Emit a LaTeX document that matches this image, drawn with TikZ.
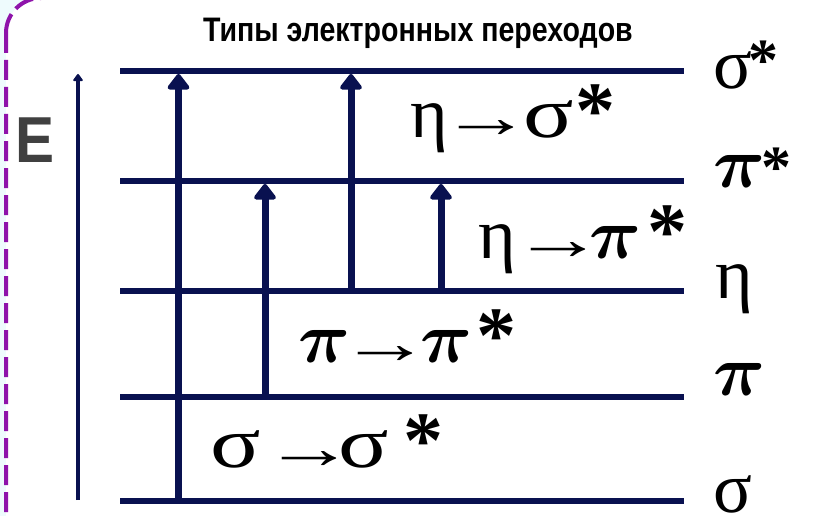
\documentclass[tikz,border=0pt]{standalone}
\usepackage{fontspec}
\usepackage{amsmath}
\usepackage{graphicx}
\setmainfont{Liberation Serif}
\newfontfamily\titlefont{Liberation Sans}
\usetikzlibrary{arrows.meta, positioning}

\definecolor{levelnavy}{RGB}{9,17,80}
\definecolor{framepurple}{RGB}{142,20,170}
\definecolor{bgcyan}{RGB}{238,251,253}

\newcommand{\trarrow}{\raisebox{-1pt}{\fontsize{60}{60}\selectfont\scalebox{1.53}[1]{→}}}
\newcommand{\trsig}{\scalebox{1.3}[1]{σ}}
\newcommand{\trstar}{{\fontsize{80}{80}\selectfont\textbf{*}}}
\newcommand{\lvlstar}{{\fontsize{60}{60}\selectfont\textbf{*}}}
\newcommand{\bpi}{\scalebox{2.9}{\fontsize{24.88}{26}\selectfont$\boldsymbol{\pi}$}}

\begin{document}
\begin{tikzpicture}[x=1pt, y=-1pt,
    level/.style={line width=5.5pt, levelnavy},
    jump/.style={line width=7pt, levelnavy, -{Triangle[width=25pt, length=17pt, round]}},
    axis/.style={line width=3.5pt, levelnavy, -{Triangle[width=11pt, length=8pt, round]}},
    lvltext/.style={anchor=base west, inner sep=0pt, font=\fontsize{72}{80}\selectfont},
    trans/.style={anchor=base west, inner sep=0pt, font=\fontsize{72}{80}\selectfont}]

    % =================================================================
    % 1. FRAME AND BACKGROUND
    % =================================================================
    \useasboundingbox (0,0) rectangle (824,516);
    \clip (0,0) rectangle (824,516);
    \fill[bgcyan] (0,0) rectangle (824,516);
    \filldraw[fill=white, draw=framepurple, line width=4pt,
        dash pattern=on 20pt off 7pt, rounded corners=35pt]
        (6,-2) rectangle (900,548);

    % =================================================================
    % 2. ENERGY LEVELS
    % =================================================================
    \coordinate (SigSL) at (120,71);
    \coordinate (SigSR) at (684,71);
    \coordinate (PiSL) at (120,181);
    \coordinate (PiSR) at (684,181);
    \coordinate (EtaL) at (120,291);
    \coordinate (EtaR) at (684,291);
    \coordinate (PiL) at (120,397);
    \coordinate (PiR) at (684,397);
    \coordinate (SigL) at (120,501);
    \coordinate (SigR) at (684,501);

    \draw[level] (SigSL) -- (SigSR);
    \draw[level] (PiSL) -- (PiSR);
    \draw[level] (EtaL) -- (EtaR);
    \draw[level] (PiL) -- (PiR);
    \draw[level] (SigL) -- (SigR);

    % level names on the right
    \node[lvltext] (nSigS) at (713,89) {σ\kern-4pt\raisebox{9pt}{\lvlstar}};
    \node[lvltext] (nPiS) at (713,187) {\bpi\kern-4pt\lvlstar};
    \node[lvltext] (nEta) at (715,298) {η};
    \node[lvltext] (nPi) at (713,395) {\bpi};
    \node[lvltext] (nSig) at (713,512) {σ};

    % =================================================================
    % 3. TRANSITIONS (ARROWS)
    % =================================================================
    \coordinate (J1a) at (178.5,501);
    \coordinate (J1b) at (178.5,74);
    \coordinate (J2a) at (265,397);
    \coordinate (J2b) at (265,184);
    \coordinate (J3a) at (351,291);
    \coordinate (J3b) at (351,74);
    \coordinate (J4a) at (441,291);
    \coordinate (J4b) at (441,184);

    \draw[jump] (J1a) -- (J1b);
    \draw[jump] (J2a) -- (J2b);
    \draw[jump] (J3a) -- (J3b);
    \draw[jump] (J4a) -- (J4b);

    % energy axis
    \coordinate (AxisLow) at (78,500);
    \coordinate (AxisTop) at (78,74);
    \draw[axis] (AxisLow) -- (AxisTop);
    \node[font=\titlefont\bfseries\fontsize{65}{65}\selectfont, text=black!75,
        inner sep=0pt] (nE) at (35.5,140) {\scalebox{0.9}[1]{E}};

    % =================================================================
    % 4. LABELS
    % =================================================================
    \node[font=\titlefont\bfseries\fontsize{34}{34}\selectfont, inner sep=0pt,
        anchor=base] (nTitle) at (418,42)
        {\scalebox{0.84}[1]{Типы электронных переходов}};

    \node[trans] (tEtaSig) at (410,137)
        {η\hspace{-7pt}\trarrow\hspace{-9pt}\trsig\hspace{1pt}\trstar};
    \node[trans] (tEtaPi) at (478,258)
        {η\hspace{-3.5pt}\trarrow\hspace{-15pt}\bpi\hspace{6pt}\trstar};
    \node[trans] (tPiPi) at (298,362)
        {\bpi\hspace{-11pt}\trarrow\hspace{-10.5pt}\bpi\hspace{4pt}\trstar};
    \node[trans] (tSigSig) at (210,467)
        {\trsig\hspace{2.5pt}\trarrow\hspace{-16pt}\trsig\hspace{14pt}\trstar};

\end{tikzpicture}
\end{document}
